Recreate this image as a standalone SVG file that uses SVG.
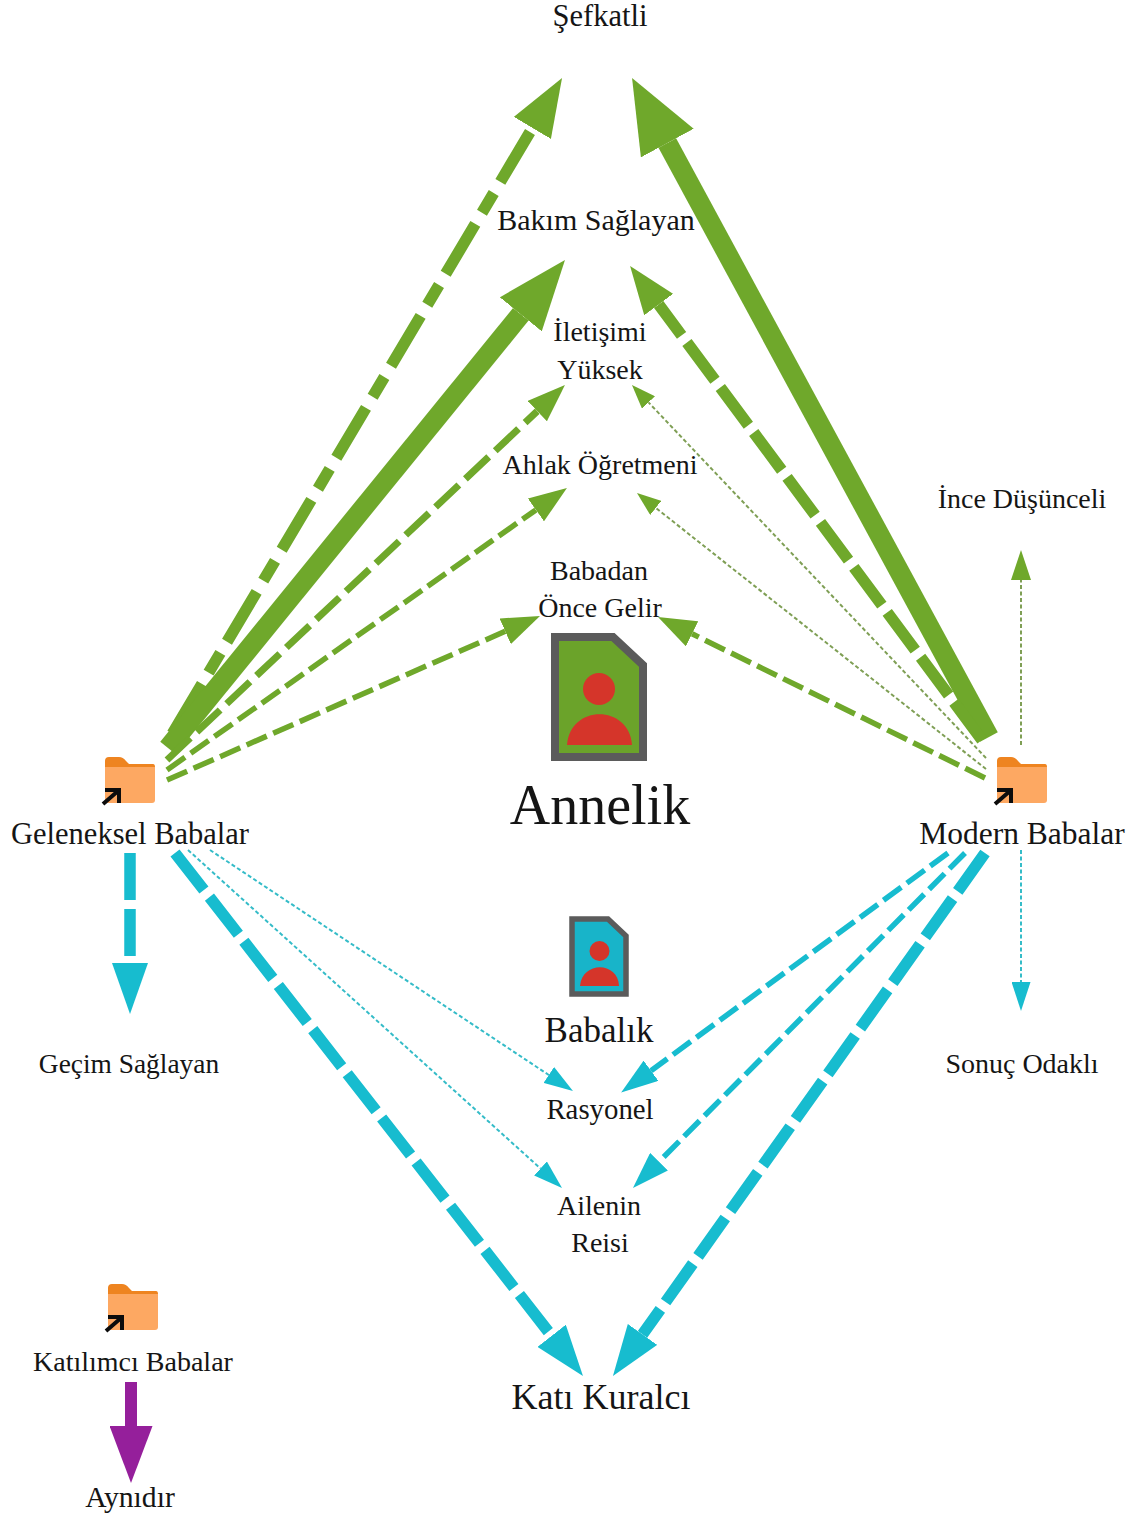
<svg xmlns="http://www.w3.org/2000/svg" xmlns:xlink="http://www.w3.org/1999/xlink" width="1141" height="1517" viewBox="0 0 1141 1517">
<style>
text{font-family:"Liberation Serif","Times New Roman",serif;fill:#151515;font-size:28px;text-anchor:middle}
.g{stroke:#6fa82b;fill:none}.b{stroke:#17bccf;fill:none}.p{stroke:#951f9b;fill:none}
.gt{stroke:#7f9f55;fill:none}.bt{stroke:#35bcc8;fill:none}
.w18{stroke-width:20}.w10{stroke-width:11.500}.w6{stroke-width:7}.w5{stroke-width:5.500}.w2{stroke-width:2}
.dd{stroke-dasharray:58 13 23 13;stroke-dashoffset:98.500}.dl{stroke-dasharray:47 9}.dm{stroke-dasharray:32 9}.ds{stroke-dasharray:22 7}.dt{stroke-dasharray:4 2.500}
</style>
<defs>
<marker id="g74" markerUnits="userSpaceOnUse" markerWidth="74" markerHeight="60" refX="0" refY="30" orient="auto"><path d="M0 0L74 30L0 60Z" fill="#6fa82b"/></marker>
<marker id="g70" markerUnits="userSpaceOnUse" markerWidth="70" markerHeight="54" refX="0" refY="27" orient="auto"><path d="M0 0L70 27L0 54Z" fill="#6fa82b"/></marker>
<marker id="g58" markerUnits="userSpaceOnUse" markerWidth="58" markerHeight="43" refX="0" refY="21.500" orient="auto"><path d="M0 0L58 21.500L0 43Z" fill="#6fa82b"/></marker>
<marker id="g48" markerUnits="userSpaceOnUse" markerWidth="48" markerHeight="36" refX="0" refY="18" orient="auto"><path d="M0 0L48 18L0 36Z" fill="#6fa82b"/></marker>
<marker id="g38" markerUnits="userSpaceOnUse" markerWidth="38" markerHeight="28" refX="0" refY="14" orient="auto"><path d="M0 0L38 14L0 28Z" fill="#6fa82b"/></marker>
<marker id="g30" markerUnits="userSpaceOnUse" markerWidth="30" markerHeight="20" refX="0" refY="10" orient="auto"><path d="M0 0L30 10L0 20Z" fill="#6fa82b"/></marker>
<marker id="g24" markerUnits="userSpaceOnUse" markerWidth="24" markerHeight="18" refX="0" refY="9" orient="auto"><path d="M0 0L24 9L0 18Z" fill="#6fa82b"/></marker>
<marker id="b51" markerUnits="userSpaceOnUse" markerWidth="51" markerHeight="36" refX="0" refY="18" orient="auto"><path d="M0 0L51 18L0 36Z" fill="#17bccf"/></marker>
<marker id="b37" markerUnits="userSpaceOnUse" markerWidth="37" markerHeight="25" refX="0" refY="12.500" orient="auto"><path d="M0 0L37 12.500L0 25Z" fill="#17bccf"/></marker>
<marker id="b29" markerUnits="userSpaceOnUse" markerWidth="29" markerHeight="19" refX="0" refY="9.500" orient="auto"><path d="M0 0L29 9.500L0 19Z" fill="#17bccf"/></marker>
<marker id="p57" markerUnits="userSpaceOnUse" markerWidth="57" markerHeight="43" refX="0" refY="21.500" orient="auto"><path d="M0 0L57 21.500L0 43Z" fill="#951f9b"/></marker>
<g id="folder">
<path d="M-25 -12V-22Q-25 -26 -21 -26H-11Q-7 -26 -4 -22L-1 -19H23Q25 -19 25 -16V-12Z" fill="#ee8420"/>
<path d="M-25 -16H25V17Q25 20 22 20H-22Q-25 20 -25 17Z" fill="#fda862"/>
<path d="M-27 21L-12 8M-25 7H-11V20" fill="none" stroke="#0c0c0c" stroke-width="4"/>
</g>
</defs>
<g id="connectors">
<path class="g w10 dd" d="M168 741L532.400 127.900" marker-end="url(#g58)"/>
<path class="g w18" d="M168 748L520.800 314.300" marker-end="url(#g70)"/>
<path class="g w6 dm" d="M167 760L537.300 411.100" marker-end="url(#g38)"/>
<path class="g w5 ds" d="M167 770L535.900 509.900" marker-end="url(#g38)"/>
<path class="g w5 ds" d="M167 780L505.200 631.300" marker-end="url(#g38)"/>
<path class="g w18" d="M989 737L667.300 143.100" marker-end="url(#g74)"/>
<path class="g w10 dl" d="M982 740L658.700 304.500" marker-end="url(#g48)"/>
<path class="gt w2 dt" d="M986 758L648.500 402.400" marker-end="url(#g24)"/>
<path class="gt w2 dt" d="M986 769L655.800 507.900" marker-end="url(#g24)"/>
<path class="g w5 ds" d="M985 778L692.100 633.800" marker-end="url(#g38)"/>
<path class="gt w2 dt" d="M1021 745V580" marker-end="url(#g30)"/>
<path class="b w10 dl" d="M130 853V963" marker-end="url(#b51)"/>
<path class="b w10 dl" d="M175 853L551.600 1335.800" marker-end="url(#b51)"/>
<path class="bt w2 dt" d="M210 850L548.800 1075" marker-end="url(#b29)"/>
<path class="bt w2 dt" d="M188 850L540.500 1168.500" marker-end="url(#b29)"/>
<path class="b w5 ds" d="M948 853L651 1070.700" marker-end="url(#b37)"/>
<path class="b w5 ds" d="M965 853L659 1161.700" marker-end="url(#b37)"/>
<path class="b w10 dl" d="M985 853L642.500 1334.400" marker-end="url(#b51)"/>
<path class="bt w2 dt" d="M1021 850V982" marker-end="url(#b29)"/>
<path class="p" d="M131 1382V1426" marker-end="url(#p57)" style="stroke-width:12"/>
</g>
<g id="n-sefkatli"><text x="600" y="26" style="font-size:30.500px">Şefkatli</text></g>
<g id="n-bakim"><text x="596" y="230" style="font-size:30px">Bakım Sağlayan</text></g>
<g id="n-iletisimi"><text x="600" y="341">İletişimi</text><text x="600" y="379">Yüksek</text></g>
<g id="n-ahlak"><text x="600" y="474">Ahlak Öğretmeni</text></g>
<g id="n-babadan"><text x="599" y="580">Babadan</text><text x="600" y="617">Önce Gelir</text></g>
<g id="n-ince"><text x="1022" y="508">İnce Düşünceli</text></g>
<g id="n-annelik">
<path d="M555 637H613L643 665V757H555Z" fill="#6ba32a" stroke="#5b5b5b" stroke-width="8"/>
<circle cx="599" cy="689" r="16" fill="#d5352a"/>
<path d="M567 745C570 704 629 704 632 745Z" fill="#d5352a"/>
<text x="600" y="824" style="font-size:56px">Annelik</text>
</g>
<g id="n-babalik">
<path d="M572 919H608L626 936V994H572Z" fill="#18b4c9" stroke="#5b5b5b" stroke-width="5.500"/>
<circle cx="599.500" cy="951" r="10" fill="#d5352a"/>
<path d="M580 986C582 961 618 961 619 986Z" fill="#d5352a"/>
<text x="599" y="1042" style="font-size:35px">Babalık</text>
</g>
<g id="n-geleneksel"><use xlink:href="#folder" href="#folder" x="130" y="783"/><text x="130" y="844" style="font-size:30.500px">Geleneksel Babalar</text></g>
<g id="n-modern"><use xlink:href="#folder" href="#folder" x="1022" y="783"/><text x="1022" y="844" style="font-size:31.500px">Modern Babalar</text></g>
<g id="n-katilimci"><use xlink:href="#folder" href="#folder" x="133" y="1310"/><text x="133" y="1371">Katılımcı Babalar</text></g>
<g id="n-gecim"><text x="129" y="1073" style="font-size:27.400px">Geçim Sağlayan</text></g>
<g id="n-sonuc"><text x="1022" y="1073">Sonuç Odaklı</text></g>
<g id="n-rasyonel"><text x="600" y="1119" style="font-size:28.800px">Rasyonel</text></g>
<g id="n-ailenin"><text x="599" y="1215">Ailenin</text><text x="600" y="1252">Reisi</text></g>
<g id="n-kati"><text x="601" y="1409" style="font-size:36px">Katı Kuralcı</text></g>
<g id="n-aynidir"><text x="130" y="1507" style="font-size:29.700px">Aynıdır</text></g>
</svg>
